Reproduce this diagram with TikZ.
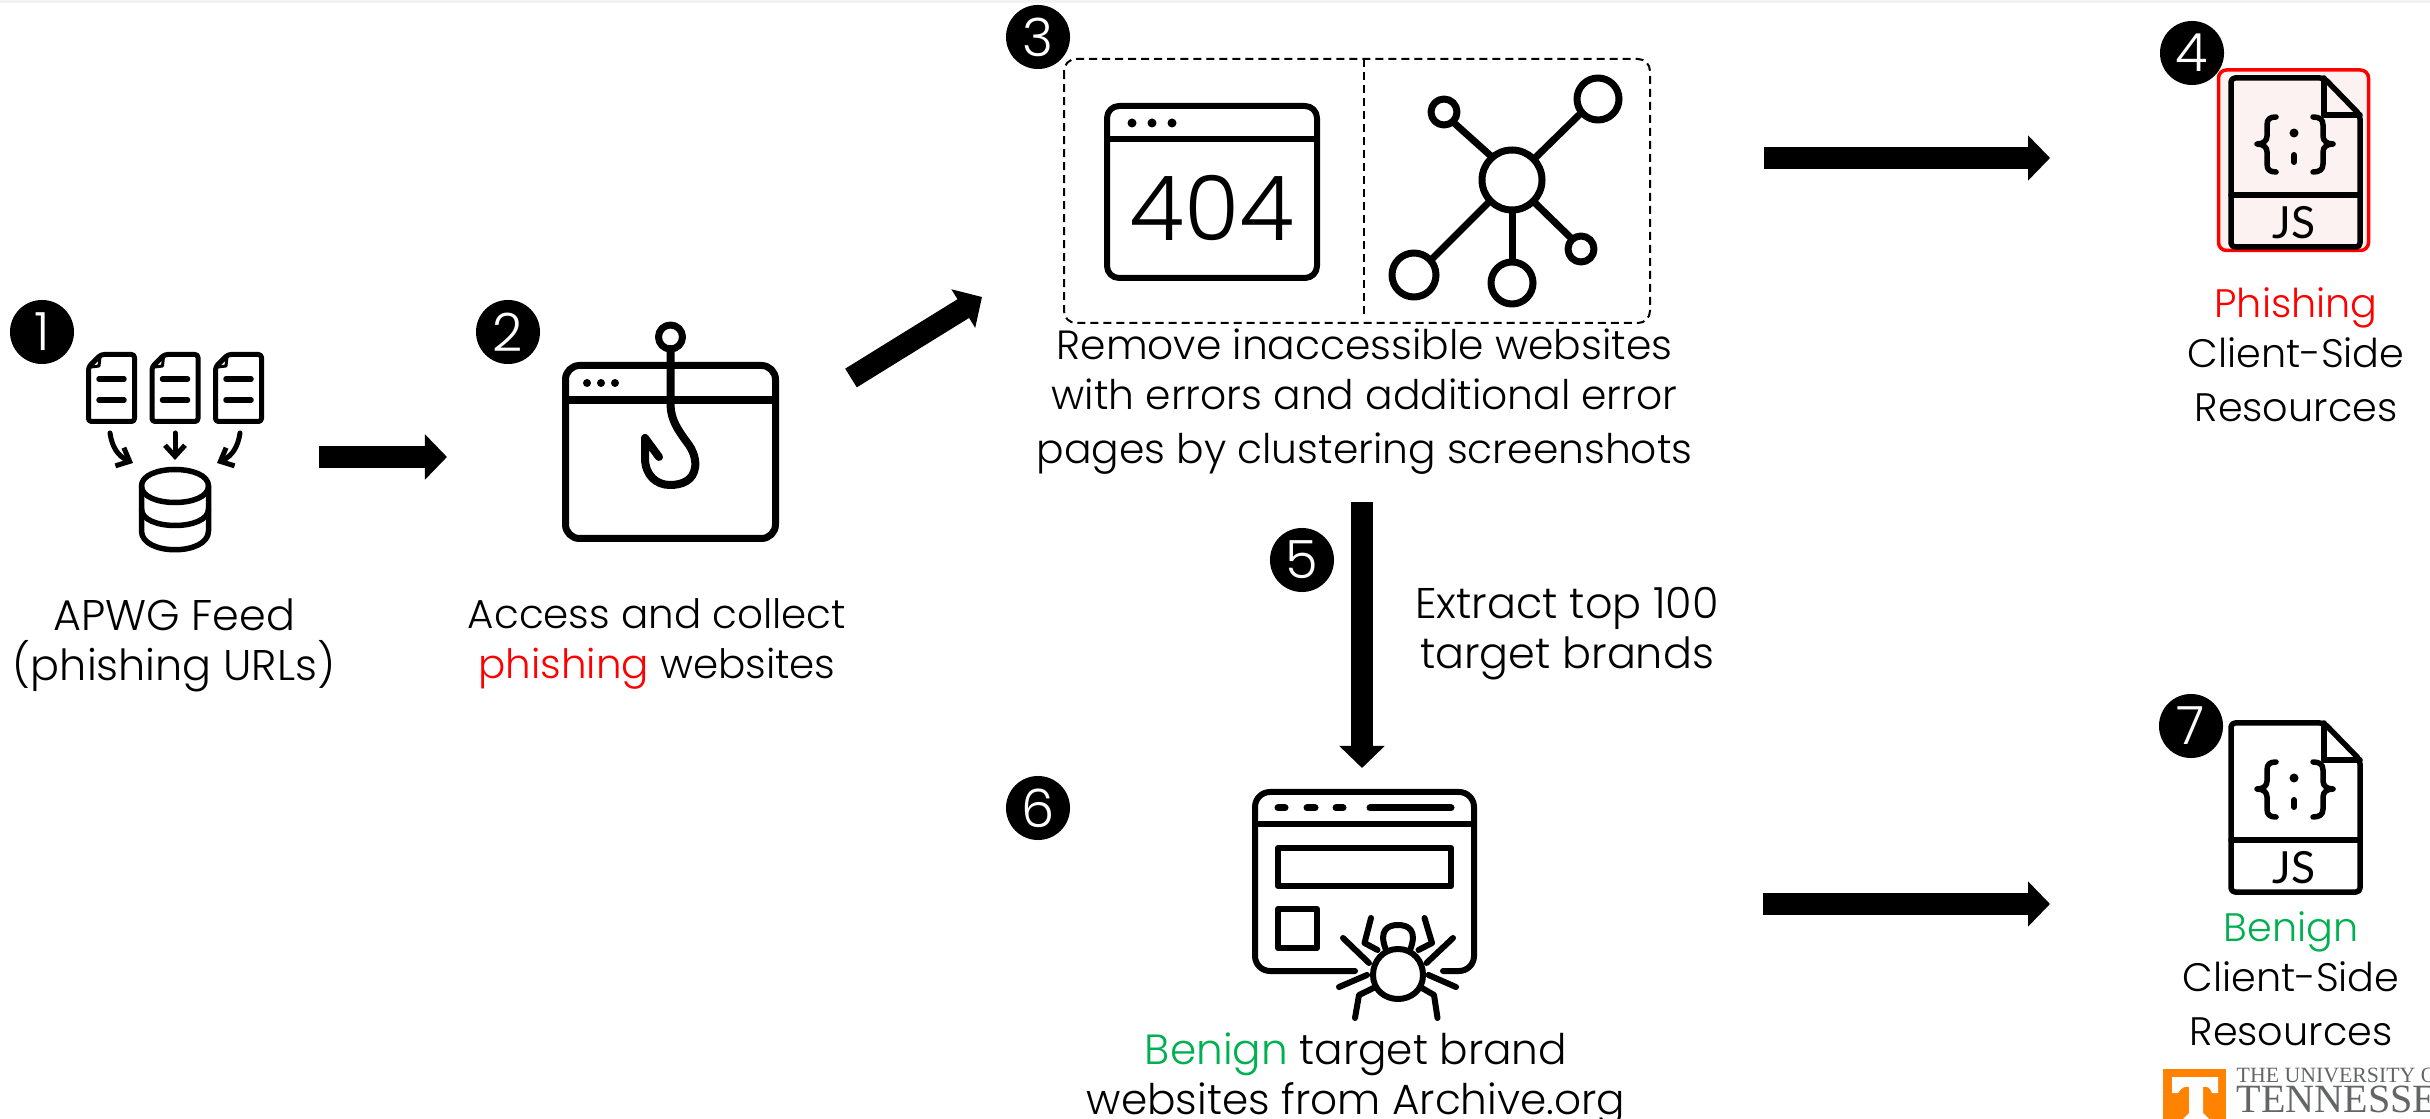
\documentclass[tikz,border=0pt]{standalone}
\usepackage{fontspec}
\setmainfont{Poppins}[UprightFont=* Light]
\newfontfamily\lat{Lato}
\newfontfamily\ser{Liberation Serif}
\usetikzlibrary{arrows.meta}
\definecolor{phred}{RGB}{255,0,0}
\definecolor{bgreen}{RGB}{0,176,80}
\definecolor{utorange}{RGB}{255,130,0}
\definecolor{utgrey}{RGB}{100,101,103}
\definecolor{pinkfill}{RGB}{253,242,242}
\newcommand{\fs}[1]{\fontsize{#1}{14.2pt}\selectfont}
\newcommand{\barbtip}{{Straight Barb[length=0.11cm,width=0.2cm]}}
\tikzset{
  x=0.01cm,y=-0.01cm,
  px/.style={line width=#1*0.01cm},
  badge/.style={circle,fill=black,text=white,minimum size=0.64cm,inner sep=0pt,font=\fs{15pt}},
  lab/.style={align=center,inner sep=0pt,anchor=north,text=black,font=\fs{#1},execute at begin node={\rule{0pt}{9.96pt}}},
  lab/.default=11.4pt,
  icon/.style={draw=black,px=#1,line cap=round,line join=round},
  icon/.default=6,
  bigarrow/.style={draw=black,px=22,-{Triangle[length=0.22cm,width=0.44cm]}},
  dashbox/.style={draw=black,px=2,dash pattern=on 0.08cm off 0.05cm},
}
\newcommand{\jsicon}[2]{%
 \begin{scope}[yshift=#1*-0.01cm]
  \draw[icon=5.5,fill=#2,rounded corners=0.04cm] (2231,78) -- (2324,78) -- (2360,115) -- (2360,247) -- (2231,247) -- cycle;
  \draw[icon=5.5] (2324,78) -- (2324,115) -- (2360,115);
  \draw[icon=5.5] (2231,195) -- (2360,195);
  \draw[icon=5.5] (2276,117) .. controls (2270,117) and (2267,119) .. (2267,125) -- (2267,136) .. controls (2267,141) and (2263,144) .. (2257,144) .. controls (2263,144) and (2267,147) .. (2267,152) -- (2267,164) .. controls (2267,170) and (2270,172) .. (2276,172);
  \draw[icon=5.5] (2313,117) .. controls (2319,117) and (2323,119) .. (2323,125) -- (2323,136) .. controls (2323,141) and (2327,144) .. (2333,144) .. controls (2327,144) and (2323,147) .. (2323,152) -- (2323,164) .. controls (2323,170) and (2319,172) .. (2313,172);
  \fill (2294,133) circle[radius=4.5];
  \draw[icon=6] (2294,155) -- (2294,162);
 \end{scope}}
\begin{document}
\begin{tikzpicture}
\useasboundingbox (0,0) rectangle (2430,1119);
\clip (0,0) rectangle (2430,1119);
\fill[black!5] (0,0) rectangle (2430,3);

% step 1 icon
\foreach \dx in {0,63.5,127}{
 \begin{scope}[xshift=\dx*0.01cm]
  \draw[icon=5,fill=white,rounded corners=0.03cm] (101,354.5) -- (134.5,354.5) -- (134.5,421.5) -- (88.5,421.5) -- (88.5,367) -- cycle;
  \draw[icon=3] (100,357) -- (99,366) -- (91,367);
  \draw[icon=5.5] (99,379) -- (124,379);
  \draw[icon=5.5] (99,400) -- (124,400);
 \end{scope}}
\draw[icon=5,-\barbtip] (110,433) .. controls (112,447) and (118,456) .. (133,463);
\draw[icon=5,-\barbtip] (175,433) -- (175,460);
\draw[icon=5,-\barbtip] (240,433) .. controls (238,447) and (232,456) .. (217,463);
\draw[icon=5.5,fill=white] (141.5,486) .. controls (141.5,464) and (208.5,464) .. (208.5,486) -- (208.5,531) .. controls (208.5,556) and (141.5,556) .. (141.5,531) -- cycle;
\draw[icon=5.5] (141.5,486) .. controls (141.5,508) and (208.5,508) .. (208.5,486);
\draw[icon=5.5] (141.5,509) .. controls (141.5,531) and (208.5,531) .. (208.5,509);

% step 2 icon
\draw[icon=7,rounded corners=0.14cm] (565.5,365.5) rectangle (775.5,538.5);
\draw[icon=8,line cap=butt] (565.5,400.5) -- (775.5,400.5);
\fill (587,383) circle[radius=4] (601,383) circle[radius=4] (615,383) circle[radius=4];
\draw[icon=7] (670.5,337) circle[radius=12];
\draw[icon=8] (670.5,349) -- (670.5,405) .. controls (671,420) and (678,430) .. (686,441) .. controls (695,452) and (696,462) .. (695,468) .. controls (693,480) and (683,485) .. (670,485) .. controls (656,485) and (645,475) .. (645,458) -- (645,438) -- (659,457);

% step 3 box
\draw[dashbox,rounded corners=0.12cm] (1064,59) rectangle (1650,323);
\draw[dashbox] (1364,59) -- (1364,315);
\draw[icon=6,rounded corners=0.12cm] (1107,106) rectangle (1317,278);
\draw[icon=6,line cap=butt] (1107,139) -- (1317,139);
\fill (1132,123) circle[radius=4.5] (1152,123) circle[radius=4.5] (1172,123) circle[radius=4.5];
\node[inner sep=0pt,font=\fontsize{25.5pt}{26pt}\selectfont] (err) at (1212,208) {404};
% network
\draw[icon=7] (1512,180) circle[radius=30];
\draw[icon=7] (1598,99) circle[radius=21];
\draw[icon=7] (1444,112) circle[radius=13];
\draw[icon=7] (1414,275) circle[radius=22];
\draw[icon=7] (1512,283) circle[radius=21];
\draw[icon=7] (1581,249) circle[radius=13];
\draw[icon=7,line cap=butt] (1534,159) -- (1581,113);
\draw[icon=7,line cap=butt] (1492,157) -- (1453,122);
\draw[icon=7,line cap=butt] (1490,201) -- (1431,260);
\draw[icon=7,line cap=butt] (1512,210) -- (1512,262);
\draw[icon=7,line cap=butt] (1533,201) -- (1572,239);

% step 4 icon
\draw[phred,px=3.5,fill=pinkfill,rounded corners=0.08cm] (2218.5,70) rectangle (2368.5,250.5);
\jsicon{0}{pinkfill}
\node[inner sep=0pt,font=\lat\fontsize{12.6pt}{13pt}\selectfont] (jsa) at (2294,222.5) {JS};

% step 7 icon
\jsicon{645}{white}
\node[inner sep=0pt,font=\lat\fontsize{12.6pt}{13pt}\selectfont] (jsb) at (2294,867.5) {JS};

% step 6 icon
\draw[icon=6,rounded corners=0.15cm] (1355,971) -- (1255,971) -- (1255,792) -- (1474,792) -- (1474,971) -- (1443,971);
\draw[icon=6,line cap=butt] (1255,824) -- (1474,824);
\draw[icon=7] (1278,808) -- (1285,808);
\draw[icon=7] (1307,808) -- (1315,808);
\draw[icon=7] (1336,808) -- (1343,808);
\draw[icon=7] (1370,808) -- (1451,808);
\draw[icon=6] (1278,848) rectangle (1451,886);
\draw[icon=6] (1278,909) rectangle (1317,948);
\draw[icon=6] (1386,950) .. controls (1378,930) and (1388,925) .. (1398,925) .. controls (1408,925) and (1418,930) .. (1410,950);
\draw[icon=6] (1398,949) .. controls (1383,949) and (1373,961) .. (1373,975) .. controls (1373,990) and (1385,999) .. (1398,999) .. controls (1411,999) and (1423,990) .. (1423,975) .. controls (1423,961) and (1413,949) .. (1398,949) -- cycle;
\draw[icon=6] (1377.5,950) -- (1364.5,943) -- (1371,918);
\draw[icon=6] (1418.5,950) -- (1432,943) -- (1424.5,918);
\draw[icon=6] (1369,963) -- (1343,938);
\draw[icon=6] (1426.5,963) -- (1453,938);
\draw[icon=6] (1367,975) -- (1339,987);
\draw[icon=6] (1428.5,975) -- (1456,987);
\draw[icon=6] (1373.5,988) -- (1359,995) -- (1355,1018);
\draw[icon=6] (1422,988) -- (1434,995) -- (1437.5,1018);

% connectors
\coordinate (a1s) at (319,457); \coordinate (a1e) at (447,457);
\coordinate (a2s) at (851,378); \coordinate (a2e) at (982,297);
\coordinate (a3s) at (1764,158); \coordinate (a3e) at (2050,158);
\coordinate (a5s) at (1362,502); \coordinate (a5e) at (1362,768);
\coordinate (a6s) at (1763,904); \coordinate (a6e) at (2050,904);
\draw[bigarrow] (a1s) -- (a1e);
\draw[bigarrow] (a2s) -- (a2e);
\draw[bigarrow] (a3s) -- (a3e);
\draw[bigarrow] (a5s) -- (a5e);
\draw[bigarrow] (a6s) -- (a6e);

% badges
\node[badge] (b1) at (42,332) {1};
\node[badge] (b2) at (508,332) {2};
\node[badge] (b3) at (1038,37) {3};
\node[badge] (b4) at (2192,53) {4};
\node[badge] (b5) at (1302,560) {5};
\node[badge] (b6) at (1038,808) {6};
\node[badge] (b7) at (2191,726) {7};

% labels
\node[lab=12.2pt] (l1) at (174,598) {APWG Feed\\(phishing URLs)};
\node[lab=11.5pt] (l2) at (657,598) {Access and collect\\{\color{phred}phishing} websites};
\node[lab=11.6pt] (l3) at (1364.5,328) {Remove inaccessible websites\\with errors and additional error\\[1.1pt]pages by clustering screenshots};
\node[lab=12.2pt] (l5) at (1567,587) {Extract top 100\\target brands};
\node[lab=12pt] (l6) at (1356,1032) {{\color{bgreen}Benign} target brand\\websites from Archive.org};
\node[lab=11.3pt] (l4) at (2296,287) {{\color{phred}Phishing}\\Client-Side\\[1.1pt]Resources};
\node[lab=11.3pt] (l7) at (2291,911) {{\color{bgreen}Benign}\\Client-Side\\[1.1pt]Resources};

% logo
\fill[utorange] (2163,1069) rectangle (2226,1119);
\fill[white] (2172,1077) -- (2218,1077) -- (2218,1093) -- (2212,1093) .. controls (2210,1087) and (2207,1086) .. (2203,1087) -- (2203,1113) -- (2209,1119) -- (2183,1119) -- (2189,1113) -- (2189,1087) .. controls (2185,1086) and (2182,1087) .. (2178,1093) -- (2172,1093) -- cycle;
\node[anchor=base west,inner sep=0pt,text=utgrey,font=\ser\fontsize{6.2pt}{6.5pt}\selectfont] (ut1) at (2236,1082) {THE UNIVERSITY OF};
\node[anchor=base west,inner sep=0pt,text=utgrey,font=\ser\fontsize{11.4pt}{12pt}\selectfont] (ut2) at (2236,1112) {TENNESSEE};
\end{tikzpicture}
\end{document}
